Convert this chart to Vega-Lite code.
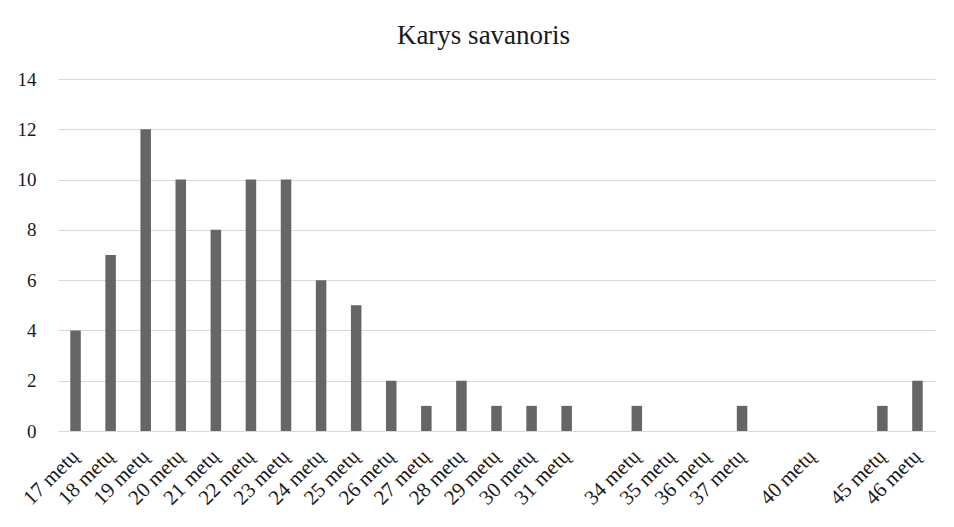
{
  "$schema": "https://vega.github.io/schema/vega-lite/v6.json",
  "autosize": {"type": "none"},
  "width": 877,
  "height": 352,
  "padding": {"left": 58, "top": 79, "right": 19, "bottom": 96},
  "background": "white",
  "title": {
    "text": "Karys savanoris",
    "font": "Liberation Serif",
    "fontSize": 27,
    "fontWeight": "normal",
    "color": "#1a1a1a",
    "anchor": "middle",
    "frame": "group",
    "baseline": "alphabetic",
    "offset": 0,
    "dx": -13,
    "dy": 1
  },
  "data": {
    "values": [
      {"age": "17 metų", "count": 4},
      {"age": "18 metų", "count": 7},
      {"age": "19 metų", "count": 12},
      {"age": "20 metų", "count": 10},
      {"age": "21 metų", "count": 8},
      {"age": "22 metų", "count": 10},
      {"age": "23 metų", "count": 10},
      {"age": "24 metų", "count": 6},
      {"age": "25 metų", "count": 5},
      {"age": "26 metų", "count": 2},
      {"age": "27 metų", "count": 1},
      {"age": "28 metų", "count": 2},
      {"age": "29 metų", "count": 1},
      {"age": "30 metų", "count": 1},
      {"age": "31 metų", "count": 1},
      {"age": "gap1", "count": 0},
      {"age": "34 metų", "count": 1},
      {"age": "35 metų", "count": 0},
      {"age": "36 metų", "count": 0},
      {"age": "37 metų", "count": 1},
      {"age": "gap2", "count": 0},
      {"age": "40 metų", "count": 0},
      {"age": "gap3", "count": 0},
      {"age": "45 metų", "count": 1},
      {"age": "46 metų", "count": 2}
    ]
  },
  "mark": {"type": "bar", "color": "#666666"},
  "encoding": {
    "x": {
      "field": "age",
      "type": "nominal",
      "sort": null,
      "scale": {"paddingInner": 0.7, "paddingOuter": 0.35},
      "axis": {
        "title": null,
        "labelAngle": -45,
        "labelAlign": "right",
        "labelBaseline": "middle",
        "labelPadding": 22,
        "ticks": false,
        "labelExpr": "indexof(datum.value, 'gap') == 0 ? '' : datum.value",
        "domainColor": "#d9d9d9",
        "labelFont": "Liberation Serif",
        "labelFontSize": 21,
        "labelColor": "#1a1a1a",
        "labelOverlap": false
      }
    },
    "y": {
      "field": "count",
      "type": "quantitative",
      "scale": {"domain": [0, 14]},
      "axis": {
        "title": null,
        "values": [0, 2, 4, 6, 8, 10, 12, 14],
        "domain": false,
        "ticks": false,
        "labelPadding": 22,
        "gridColor": "#d9d9d9",
        "labelFont": "Liberation Serif",
        "labelFontSize": 19,
        "labelColor": "#1a1a1a"
      }
    }
  },
  "config": {"view": {"stroke": null}}
}
